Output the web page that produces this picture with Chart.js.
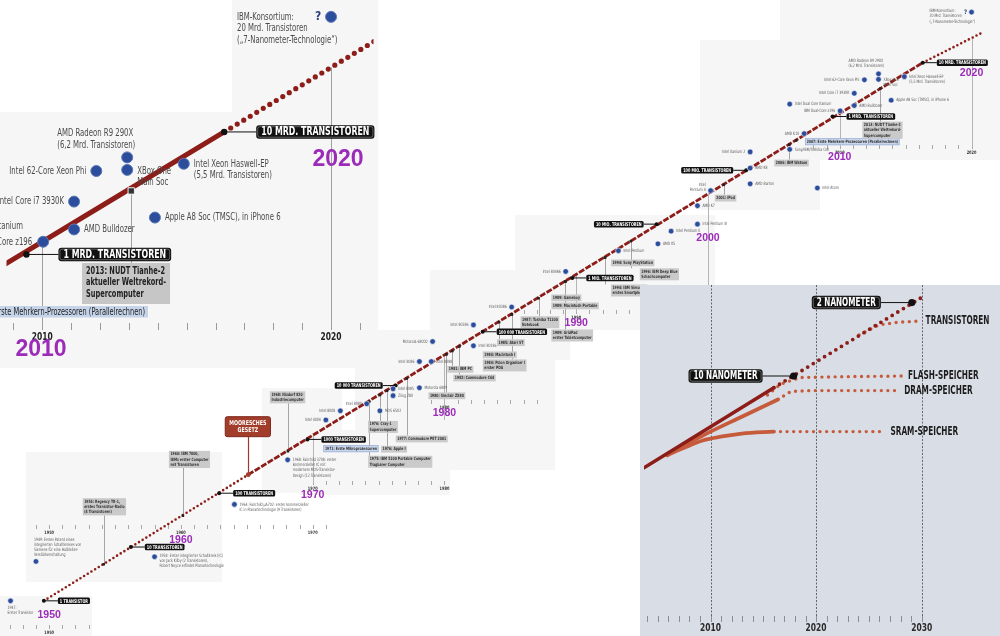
<!DOCTYPE html>
<html>
<head>
<meta charset="utf-8">
<script src="https://cdn.jsdelivr.net/npm/chart.js@4.4.0/dist/chart.umd.min.js"></script>
<style>
html, body { margin: 0; padding: 0; background: #fff; }
#wrap { position: relative; width: 1000px; height: 636px; overflow: hidden; }
canvas { position: absolute; }
#main { left: 0; top: 0; }
#zoom { left: 0; top: 0; }
#future { left: 640px; top: 285px; }
</style>
</head>
<body>
<div id="wrap">
  <canvas id="main" width="1000" height="636"></canvas>
  <canvas id="zoom" width="380" height="372"></canvas>
  <canvas id="future" width="360" height="351"></canvas>
</div>
<script>
// Mooresches Gesetz: Hauptlinie (Jahr, Transistoren)
const mooreYears = [1949.6, 1965.11, 2016.3, 2020.7];
const mooreCounts = [1, 221, 1e10, 3.5e10];

// Meilensteine auf der Linie
const milestoneLabels = ['1 TRANSISTOR', '10 TRANSISTOREN', '100 TRANSISTOREN', '1000 TRANSISTOREN',
  '10 000 TRANSISTOREN', '100 000 TRANSISTOREN', '1 MIO. TRANSISTOREN', '10 MIO. TRANSISTOREN',
  '100 MIO. TRANSISTOREN', '1 MRD. TRANSISTOREN', '10 MRD. TRANSISTOREN'];
const milestoneYears = [1949.6, 1956.2, 1962.9, 1969.6, 1976.3, 1982.9, 1989.7, 1996.1, 2002.9, 2009.45, 2016.3];
const milestoneCounts = [1, 10, 100, 1e3, 1e4, 1e5, 1e6, 1e7, 1e8, 1e9, 1e10];

// Chips (blaue Punkte)
const chipNames = [
  '1947:\nErster Transistor',
  '1949: Erstes Patent eines\nintegrierten Schaltkreises von\nSiemens für eine Halbleiter-\nVerstärkerschaltung',
  '1958: Erster integrierter Schaltkreis (IC)\nvon Jack Kilby (2 Transistoren),\nRobert Noyce erfindet Planartechnologie',
  '1964: Fairchild µA702: erster kommerzieller\nIC in Planartechnologie (9 Transistoren)',
  '1968: Fairchild 3708: erster\nkommerzieller IC mit\nmodernem MOS-Transistor-\nDesign (12 Transistoren)',
  'Intel 4004', 'Intel 8008', 'Intel 8080', 'MOS 6502', 'Intel 8085', 'Zilog Z80', 'Motorola 6809',
  'Intel 8086', 'Intel 8088', 'Motorola 68000', 'Intel 80286', 'Intel 80186', 'Intel 80386', 'Intel 80486',
  'Intel Pentium', 'AMD K5', 'Intel Pentium II', 'Intel Pentium III', 'AMD K7', 'Intel\nPentium 4',
  'AMD Barton', 'AMD K8', 'Intel Itanium 2', 'Intel Atom', 'Sony/IBM/Toshiba Cell', 'AMD K10',
  'Intel Dual Core Itanium', 'IBM Dual-Core z196', 'AMD Bulldozer', 'Intel Core i7 3930K',
  'Intel 62-Core Xeon Phi', 'AMD Radeon R9 290X\n(6,2 Mrd. Transistoren)', 'XBox One\nMain Soc',
  'Intel Xeon Haswell-EP\n(5,5 Mrd. Transistoren)', 'Apple A8 Soc (TMSC), in iPhone 6',
  'IBM-Konsortium:\n20 Mrd. Transistoren\n(„7-Nanometer-Technologie“)'
];
const chipYears = [1947.07, 1949.0, 1958.0, 1964.06, 1968.1, 1971.0, 1972.1, 1974.1, 1975.1, 1976.1, 1976.1,
  1978.1, 1978.1, 1979.0, 1979.1, 1982.2, 1982.2, 1985.1, 1989.2, 1993.2, 1996.2, 1997.2, 1999.2, 1999.2,
  2000.2, 2003.2, 2003.2, 2003.2, 2008.3, 2006.2, 2007.3, 2006.2, 2010.03, 2011.1, 2011.1, 2011.87,
  2012.94, 2012.94, 2014.9, 2013.9, 2020.0];
const chipCounts = [1, 5.4, 6.6, 62, 417, 2300, 3400, 4600, 3400, 8700, 6500, 9100, 28000, 28000, 66000,
  134000, 55000, 288000, 1.32e6, 3.2e6, 4.3e6, 7.4e6, 1.0e7, 2.2e7, 4.2e7, 5.6e7, 1.1e8, 2.2e8, 4.7e7,
  2.45e8, 4.8e8, 1.7e9, 1.27e9, 1.6e9, 2.7e9, 4.8e9, 6.2e9, 4.9e9, 5.5e9, 2.0e9, 8.7e10];

// Ereignisse (graue Kästen) mit Ankerpunkt auf der Linie
const eventLabels = [
  '1954: Regency TR-1,\nerstes Transistor-Radio\n(4 Transistoren)',
  '1960: IBM 7000,\nIBMs erster Computer\nmit Transistoren',
  'MOORESCHES\nGESETZ',
  '1968: Nixdorf 820\nIndustriecomputer',
  '1971: Erste Mikroprozessoren',
  '1975: IBM 5100 Portable Computer\nTragbarer Computer',
  '1976: Cray-1\nSupercomputer',
  '1976: Apple I',
  '1977: Commodore PET 2001',
  '1980: Sinclair ZX80',
  '1981: IBM PC',
  '1982: Commodore C64',
  '1985: Atari ST',
  '1984: Macintosh I',
  '1984: Psion Organiser I\nerster PDA',
  '1987: Toshiba T1100\nNotebook',
  '1989: Gameboy',
  '1989: Macintosh Portable',
  '1989: GridPad\nerster Tabletcomputer',
  '1994: Sony PlayStation',
  '1994: IBM Simon\nerstes Smartphone',
  '1996: IBM Deep Blue\nSchachcomputer',
  '2001: iPod',
  '2006: IBM Watson',
  '2007: Erste Mehrkern-Prozessoren (Parallelrechnen)',
  '2013: NUDT Tianhe-2\naktueller Weltrekord-\nSupercomputer'
];
const eventYears = [1954.14, 1960.15, 1965.11, 1968.12, 1969.98, 1974.29, 1975.11, 1975.64, 1977.14, 1980.15,
  1980.6, 1981.13, 1984.14, 1985.11, 1985.11, 1987.14, 1989.17, 1989.17, 1989.17, 1992.18, 1992.18, 1994.14,
  2001.2, 2006.17, 2006.69, 2013.08];
const eventCounts = [4.8, 38, 221, 600, 1140, 5000, 6700, 8000, 13500, 38000, 44000, 53000, 1.5e5, 2.1e5,
  2.1e5, 4.2e5, 8.6e5, 8.6e5, 8.6e5, 2.4e6, 2.4e6, 4.8e6, 5.4e7, 3.0e8, 3.6e8, 3.3e9];

// Zeitachse
const decadeYears = [1950, 1960, 1970, 1980, 1990, 2000, 2010, 2020];

// Ausschnitt oben links (2009-2021)
const zoomLineYears = [2008.7, 2016.3, 2021.5];
const zoomLineCounts = [8.3e8, 1e10, 5.5e10];
const zoomTickYears = [2010, 2020];

// Ausblick unten rechts
const transSolidYears = [2003.7, 2016.0];
const transSolidCounts = [2.0e8, 1.4e10];
const transTrendYears = [2016.0, 2030.2];
const transTrendCounts = [1.4e10, 1.8e12];
const transSatYears = [2024.07, 2025.92, 2027.77, 2029.9];
const transSatCounts = [2.3e11, 3.9e11, 4.5e11, 4.8e11];
const flashTrendYears = [2015.4, 2016.66, 2018.51, 2022.22, 2028.24];
const flashTrendCounts = [9.5e9, 1.7e10, 2.4e10, 2.5e10, 2.6e10];
const dramYears = [2005.9, 2009.26, 2012.96, 2016.39];
const dramCounts = [3.9e8, 1.1e9, 3.0e9, 7.5e9];
const dramTrendYears = [2016.39, 2017.59, 2019.44, 2027.96];
const dramTrendCounts = [7.5e9, 1.14e10, 1.2e10, 1.2e10];
const sramYears = [2005.9, 2007.4, 2009.26, 2011.11, 2012.96, 2016.0];
const sramCounts = [3.9e8, 5.6e8, 8.5e8, 1.05e9, 1.22e9, 1.36e9];
const sramTrendYears = [2016.0, 2026.57];
const sramTrendCounts = [1.36e9, 1.36e9];
const nodeLabels = ['10 NANOMETER', '2 NANOMETER'];
const nodeYears = [2017.87, 2029.07];
const nodeCounts = [2.6e10, 1.28e12];
const futureSeriesLabels = ['TRANSISTOREN', 'FLASH-SPEICHER', 'DRAM-SPEICHER', 'SRAM-SPEICHER'];
const futureTickYears = [2010, 2020, 2030];

// ---------- Stil / Layout ----------
const RED = '#8c1d18';
const ORANGE = '#c65b3b';
const BLUE = '#2b4d9b';
const PURPLE = '#9b2bb8';
const NARROW = "'Liberation Sans Narrow','DejaVu Sans Condensed',sans-serif";
const WIDE = "'Liberation Sans',Arial,sans-serif";

const pts = (xs, ys) => xs.map((x, i) => ({ x: x, y: ys[i] }));

function drawText(ctx, s, x, y, o) {
  ctx.save();
  ctx.font = (o.weight || 'normal') + ' ' + o.size + 'px ' + (o.family || NARROW);
  ctx.fillStyle = o.color || '#555';
  ctx.textBaseline = 'middle';
  ctx.textAlign = 'left';
  const sx = o.sx || 1;
  const w = ctx.measureText(s).width * sx;
  let x0 = x;
  if (o.align === 'right') x0 = x - w;
  else if (o.align === 'center') x0 = x - w / 2;
  ctx.translate(x0, y);
  ctx.scale(sx, 1);
  ctx.fillText(s, 0, 0);
  ctx.restore();
  return w;
}
function measure(ctx, s, o) {
  ctx.save();
  ctx.font = (o.weight || 'normal') + ' ' + o.size + 'px ' + (o.family || NARROW);
  const w = ctx.measureText(s).width * (o.sx || 1);
  ctx.restore();
  return w;
}
function drawLines(ctx, text, x, y, lh, o) {
  text.split('\n').forEach((s, i) => drawText(ctx, s, x, y + i * lh, o));
}
function rrect(ctx, x, y, w, h, r) {
  ctx.beginPath();
  ctx.moveTo(x + r, y);
  ctx.lineTo(x + w - r, y);
  ctx.quadraticCurveTo(x + w, y, x + w, y + r);
  ctx.lineTo(x + w, y + h - r);
  ctx.quadraticCurveTo(x + w, y + h, x + w - r, y + h);
  ctx.lineTo(x + r, y + h);
  ctx.quadraticCurveTo(x, y + h, x, y + h - r);
  ctx.lineTo(x, y + r);
  ctx.quadraticCurveTo(x, y, x + r, y);
  ctx.closePath();
}
// schwarzer Beschriftungskasten; side 'r': Kasten rechts vom Punkt
function tag(ctx, s, dotX, dotY, gap, side, o) {
  const w = measure(ctx, s, { size: o.size, weight: 'bold', sx: o.sx }) + o.pad * 2;
  const x0 = side === 'l' ? dotX - gap - w : dotX + gap;
  ctx.save();
  ctx.strokeStyle = '#111';
  ctx.lineWidth = 1;
  ctx.beginPath();
  ctx.moveTo(dotX, dotY);
  ctx.lineTo(side === 'l' ? x0 + w : x0, dotY);
  ctx.stroke();
  rrect(ctx, x0, dotY - o.h / 2, w, o.h, o.r);
  ctx.fillStyle = '#111';
  ctx.fill();
  if (o.inner) {
    rrect(ctx, x0 + 1.5, dotY - o.h / 2 + 1.5, w - 3, o.h - 3, o.r - 1);
    ctx.strokeStyle = 'rgba(255,255,255,0.55)';
    ctx.lineWidth = 0.6;
    ctx.stroke();
  }
  ctx.restore();
  drawText(ctx, s, x0 + o.pad, dotY + 0.5, { size: o.size, weight: 'bold', color: '#fff', sx: o.sx });
}
function logInterp(xs, ys, x) {
  for (let i = 0; i < xs.length - 1; i++) {
    if (x >= xs[i] && x <= xs[i + 1]) {
      const t = (x - xs[i]) / (xs[i + 1] - xs[i]);
      return Math.pow(10, Math.log10(ys[i]) + t * (Math.log10(ys[i + 1]) - Math.log10(ys[i])));
    }
  }
  return ys[ys.length - 1];
}
function dotted(data, color, width, gap, order) {
  return { data: data, showLine: true, pointRadius: 0, borderColor: color, borderWidth: width,
    borderDash: [0, gap], borderCapStyle: 'round', order: order || 10 };
}
function solid(data, color, width, order) {
  return { data: data, showLine: true, pointRadius: 0, borderColor: color, borderWidth: width,
    borderCapStyle: 'round', cubicInterpolationMode: 'monotone', order: order || 10 };
}
function baseOptions(xmin, xmax, ymin, ymax) {
  return {
    responsive: false, animation: false, devicePixelRatio: 1, events: [],
    layout: { padding: 0 },
    plugins: { legend: { display: false }, tooltip: { enabled: false } },
    scales: {
      x: { type: 'linear', min: xmin, max: xmax, display: false },
      y: { type: 'logarithmic', min: ymin, max: ymax, display: false }
    }
  };
}

// Layout der Hauptgrafik
const R = [5, 0, 'left'], L = [-5, 0, 'right'];
const chipPlace = [
  [-3, 7, 'left'], [-2, -22, 'left'], [5, -1, 'left'], [5, 0, 'left'], [5, 0, 'left'],
  L, L, L, R, R, R, R, L, R, L, L, R, L, L, R, R, R, R, R, [-5, -6, 'right'],
  R, R, L, R, R, L, R, L, R, L, L, [-30, -13, 'left'], R, R, R, [-42, -1, 'left']
];
const milestoneSide = ['r', 'r', 'r', 'r', 'l', 'r', 'r', 'l', 'l', 'r', 'r'];
const eventBox = [[-21, -66], [-14, -65], [-23, -58], [-18, -60], [11, 9], [-1, 54], [-12, 26], [-6, 55],
  [-11, 57], [-18, 38], [-5, 15], [-6, 28], [-2, 17], [-29, 37], [-29, 45], [-18, 18], [-14, 13], [-14, 21],
  [-14, 48], [6, 2], [6, 27], [9, 27], [-9, 10], [-15, 15], [9, -2], [-18, 33]];
const eventKind = eventLabels.map((s, i) => i === 2 ? 'red' : (i === 4 || i === 24) ? 'blue' : 'gray');
const decadeLabelY = [615, 540, 495, 413, 323, 238, 157, 73];
const stemBottom = { 1970: 483, 1980: 420, 1990: 312, 2000: 290, 2010: 147, 2020: 147 };
const tickRows = [
  { from: 1947, to: 1953, y: 627, labels: [1950] },
  { from: 1949, to: 1971, y: 527, labels: [1950, 1960, 1970] },
  { from: 1970, to: 1980, y: 483, labels: [1970, 1980] },
  { from: 1979, to: 1987, y: 402, labels: [1980] },
  { from: 1986, to: 2000, y: 312, labels: [1990] },
  { from: 2008, to: 2020, y: 147, labels: [2010, 2020] }
];
const panels = [[0, 596, 92, 40], [26, 452, 196, 130], [262, 388, 80, 105], [300, 430, 150, 65],
  [355, 330, 200, 140], [430, 270, 140, 90], [515, 215, 200, 115], [700, 40, 120, 170], [780, 0, 220, 160]];
const SMALL = { size: 4.5, color: '#5a5a5a', sx: 0.78 };
const BOXFONT = { size: 4.4, weight: 'bold', color: '#333', sx: 0.78 };
const MOOREFONT = { size: 6.6, weight: 'bold', color: '#fff', sx: 0.8, align: 'center' };

const mainDecor = {
  id: 'mainDecor',
  beforeDatasetsDraw(chart) {
    const ctx = chart.ctx;
    const X = v => chart.scales.x.getPixelForValue(v);
    const Y = v => chart.scales.y.getPixelForValue(v);
    ctx.save();
    ctx.fillStyle = '#f6f6f6';
    panels.forEach(p => ctx.fillRect(p[0], p[1], p[2], p[3]));
    // Zeitachsen-Abschnitte
    ctx.strokeStyle = '#a8a8a8';
    ctx.lineWidth = 1;
    tickRows.forEach(r => {
      for (let yr = r.from; yr <= r.to; yr++) {
        const x = Math.round(X(yr)) + 0.5;
        ctx.beginPath();
        ctx.moveTo(x, r.y - 2);
        ctx.lineTo(x, r.y + 2);
        ctx.stroke();
      }
      r.labels.forEach(l => drawText(ctx, String(l), X(l), r.y + 6, { size: 4.6, weight: 'bold', color: '#333', align: 'center', sx: 0.85 }));
    });
    // senkrechte Linien der Jahrzehnte
    ctx.strokeStyle = '#b5b5b5';
    Object.keys(stemBottom).forEach(k => {
      const yr = Number(k);
      const x = Math.round(X(yr)) + 0.5;
      ctx.beginPath();
      ctx.moveTo(x, Y(logInterp(mooreYears, mooreCounts, yr)));
      ctx.lineTo(x, stemBottom[k]);
      ctx.stroke();
    });
    // Verbindungslinien der Ereignisse
    eventLabels.forEach((s, i) => {
      if (eventKind[i] === 'blue') return;
      const ax = X(eventYears[i]), ay = Y(eventCounts[i]);
      const h = boxSize(ctx, s, eventKind[i]).h;
      const by = ay + eventBox[i][1];
      ctx.strokeStyle = eventKind[i] === 'red' ? '#9d3a2b' : '#a5a5a5';
      ctx.lineWidth = eventKind[i] === 'red' ? 1.2 : 1;
      ctx.beginPath();
      ctx.moveTo(Math.round(ax) + 0.5, ay);
      ctx.lineTo(Math.round(ax) + 0.5, eventBox[i][1] < 0 ? by + h : by);
      ctx.stroke();
    });
    ctx.restore();
  },
  afterDatasetsDraw(chart) {
    const ctx = chart.ctx;
    const X = v => chart.scales.x.getPixelForValue(v);
    const Y = v => chart.scales.y.getPixelForValue(v);
    // Ereigniskästen
    eventLabels.forEach((s, i) => {
      const ax = X(eventYears[i]), ay = Y(eventCounts[i]);
      const k = eventKind[i];
      const sz = boxSize(ctx, s, k);
      const bx = ax + eventBox[i][0], by = ay + eventBox[i][1];
      ctx.save();
      if (k === 'red') {
        rrect(ctx, bx, by, sz.w, sz.h, 2);
        ctx.fillStyle = '#a23c2b';
        ctx.fill();
        ctx.strokeStyle = '#7d2a1d';
        ctx.lineWidth = 1;
        ctx.stroke();
      } else {
        ctx.fillStyle = k === 'blue' ? '#c9d6ec' : '#cacaca';
        ctx.fillRect(bx, by, sz.w, sz.h);
        if (k === 'blue') {
          ctx.strokeStyle = '#8ea6cf';
          ctx.lineWidth = 0.6;
          ctx.strokeRect(bx + 0.3, by + 0.3, sz.w - 0.6, sz.h - 0.6);
        }
      }
      ctx.restore();
      const o = k === 'red' ? MOOREFONT : BOXFONT;
      const tx = k === 'red' ? bx + sz.w / 2 : bx + 1.5;
      drawLines(ctx, s, tx, by + sz.pad + sz.lh / 2, sz.lh, o);
    });
    // Chip-Beschriftungen
    chipNames.forEach((s, i) => {
      const p = chipPlace[i];
      const x = X(chipYears[i]) + p[0], y = Y(chipCounts[i]) + p[1];
      drawLines(ctx, s, x, y, 5.2, Object.assign({ align: p[2] }, SMALL));
    });
    drawText(ctx, '?', X(chipYears[40]) - 6, Y(chipCounts[40]), { size: 6, weight: 'bold', color: '#2b3f7a', align: 'center' });
    // Meilensteine
    milestoneLabels.forEach((s, i) => {
      tag(ctx, s, X(milestoneYears[i]), Y(milestoneCounts[i]), milestoneSide[i] === 'l' ? 13 : 14,
        milestoneSide[i], { size: 5, sx: 0.76, pad: 2, h: 6.5, r: 1.5 });
    });
    // Jahrzehnte
    decadeYears.forEach((d, i) => drawText(ctx, String(d), X(d), decadeLabelY[i],
      { size: 10.5, weight: 'bold', family: WIDE, color: PURPLE, align: 'center' }));
  }
};
function boxSize(ctx, s, kind) {
  const lines = s.split('\n');
  const f = kind === 'red' ? MOOREFONT : BOXFONT;
  const w = Math.max(...lines.map(l => measure(ctx, l, f)));
  if (kind === 'red') return { w: w + 8, h: lines.length * 7.5 + 5, lh: 7.5, pad: 2.5 };
  return { w: w + 3, h: lines.length * 5.2 + 1.6, lh: 5.2, pad: 0.8 };
}

new Chart(document.getElementById('main'), {
  type: 'scatter',
  data: {
    datasets: [
      { data: pts(chipYears, chipCounts), pointRadius: 2.8, backgroundColor: BLUE, borderColor: '#ffffff', borderWidth: 0.6, order: 1 },
      { data: pts(milestoneYears, milestoneCounts), pointRadius: 2, backgroundColor: '#111', borderWidth: 0, order: 1 },
      { data: pts(eventYears, eventCounts), pointStyle: eventYears.map((y, i) => i === 2 ? 'circle' : 'rect'),
        pointRadius: eventYears.map((y, i) => i === 2 ? 2.4 : i === 4 ? 0 : 1.8),
        backgroundColor: eventYears.map((y, i) => i === 2 ? '#a23c2b' : '#222'), borderWidth: 0, order: 2 },
      dotted(pts(mooreYears.slice(0, 2), mooreCounts.slice(0, 2)), RED, 2.6, 4.3),
      Object.assign(solid(pts(mooreYears.slice(1, 3), mooreCounts.slice(1, 3)), RED, 2.8),
        { borderDash: [6, 1.6], borderCapStyle: 'butt' }),
      dotted(pts(mooreYears.slice(2, 4), mooreCounts.slice(2, 4)), RED, 2.6, 4.3)
    ]
  },
  options: baseOptions(1946.62, 2021.81, 0.2705, 1.2e11),
  plugins: [mainDecor]
});

// ---------- Ausschnitt oben links ----------
const zoomChipIdx = [31, 32, 33, 34, 35, 36, 37, 38, 39, 40];
const zoomPlace = { 31: [10, 0, 'left'], 32: [-11, 0, 'right'], 33: [10, 0, 'left'], 34: [-10, 0, 'right'],
  35: [-10, 0, 'right'], 36: [-70, -24, 'left'], 37: [10, 1, 'left'], 38: [10, 0, 'left'], 39: [10, 0, 'left'],
  40: [-94, 0, 'left'] };
const zoomTickY = 327;
const ZOOMFONT = { size: 11, color: '#4a4a4a', sx: 0.7 };

const zoomDecor = {
  id: 'zoomDecor',
  beforeDatasetsDraw(chart) {
    const ctx = chart.ctx;
    const X = v => chart.scales.x.getPixelForValue(v);
    const Y = v => chart.scales.y.getPixelForValue(v);
    ctx.save();
    ctx.fillStyle = '#f6f6f6';
    ctx.fillRect(0, 112, 378, 256);
    ctx.fillRect(232, 0, 146, 112);
    ctx.strokeStyle = '#9a9a9a';
    ctx.lineWidth = 1;
    for (let yr = 2009; yr <= 2021; yr++) {
      const x = Math.round(X(yr)) + 0.5;
      ctx.beginPath();
      ctx.moveTo(x, zoomTickY - 4);
      ctx.lineTo(x, zoomTickY + 3);
      ctx.stroke();
    }
    ctx.strokeStyle = '#a0a0a0';
    const x10 = Math.round(X(2010)) + 0.5, x20 = Math.round(X(2020)) + 0.5;
    ctx.beginPath();
    ctx.moveTo(x10, Y(chipCounts[32]));
    ctx.lineTo(x10, zoomTickY);
    ctx.moveTo(x20, Y(logInterp(zoomLineYears, zoomLineCounts, 2020)));
    ctx.lineTo(x20, zoomTickY);
    const tx = Math.round(X(eventYears[25])) + 0.5;
    ctx.moveTo(tx, Y(eventCounts[25]));
    ctx.lineTo(tx, 263);
    ctx.stroke();
    ctx.restore();
    zoomTickYears.forEach(t => drawText(ctx, String(t), X(t), zoomTickY + 10, { size: 10.5, weight: 'bold', color: '#222', align: 'center', sx: 0.8 }));
  },
  afterDatasetsDraw(chart) {
    const ctx = chart.ctx;
    const X = v => chart.scales.x.getPixelForValue(v);
    const Y = v => chart.scales.y.getPixelForValue(v);
    zoomChipIdx.forEach(i => {
      const p = zoomPlace[i];
      drawLines(ctx, chipNames[i], X(chipYears[i]) + p[0], Y(chipCounts[i]) + p[1], 11.5,
        Object.assign({ align: p[2] }, ZOOMFONT));
    });
    drawText(ctx, '?', X(chipYears[40]) - 13, Y(chipCounts[40]), { size: 12, weight: 'bold', color: '#2b3f7a', align: 'center' });
    // Tianhe-2 und Mehrkern-Kasten
    ctx.save();
    ctx.fillStyle = '#c6c6c6';
    ctx.fillRect(82, 263, 88, 41);
    ctx.fillStyle = '#c6d4ea';
    const mw = measure(ctx, eventLabels[24], { size: 10.5, sx: 0.7 }) + 6;
    ctx.fillRect(148 - mw, 306, mw, 11.5);
    ctx.restore();
    drawLines(ctx, eventLabels[25], 86, 271, 11.5, { size: 10.5, weight: 'bold', color: '#222', sx: 0.7 });
    drawText(ctx, eventLabels[24], 145, 312, { size: 10.5, color: '#222', sx: 0.7, align: 'right' });
    [9, 10].forEach(i => tag(ctx, milestoneLabels[i], X(milestoneYears[i]), Y(milestoneCounts[i]), 32, 'r',
      { size: 11.5, sx: 0.76, pad: 5, h: 13.5, r: 3, inner: true }));
    drawText(ctx, '2010', 41, 350, { size: 23, weight: 'bold', family: WIDE, color: PURPLE, align: 'center' });
    drawText(ctx, '2020', 338, 160, { size: 23, weight: 'bold', family: WIDE, color: PURPLE, align: 'center' });
  }
};

new Chart(document.getElementById('zoom'), {
  type: 'scatter',
  data: {
    datasets: [
      { data: zoomChipIdx.map(i => ({ x: chipYears[i], y: chipCounts[i] })), pointRadius: 5.5,
        backgroundColor: BLUE, borderColor: '#5b78b8', borderWidth: 1, order: 1 },
      { data: [9, 10].map(i => ({ x: milestoneYears[i], y: milestoneCounts[i] })), pointRadius: 3.2,
        backgroundColor: '#111', borderWidth: 0, order: 1 },
      { data: [{ x: eventYears[25], y: eventCounts[25] }], pointStyle: 'rect', pointRadius: 4.5,
        backgroundColor: '#333', borderColor: '#eee', borderWidth: 1, order: 1 },
      solid(pts(zoomLineYears.slice(0, 2), zoomLineCounts.slice(0, 2)), RED, 5),
      dotted(pts(zoomLineYears.slice(1, 3), zoomLineCounts.slice(1, 3)), RED, 5.2, 7.6)
    ]
  },
  options: baseOptions(2008.76, 2021.47, 1.24e8, 1.057e11),
  plugins: [zoomDecor]
});

// ---------- Ausblick unten rechts ----------
const futureTickY = 333;
const labelGap = [5, 5, 4, 5];
const futureDecor = {
  id: 'futureDecor',
  beforeDatasetsDraw(chart) {
    const ctx = chart.ctx;
    const X = v => chart.scales.x.getPixelForValue(v);
    ctx.save();
    ctx.fillStyle = '#d9dee6';
    ctx.fillRect(0, 0, chart.width, chart.height);
    ctx.strokeStyle = '#62666d';
    ctx.lineWidth = 1;
    ctx.setLineDash([2, 1.5]);
    futureTickYears.forEach(t => {
      const x = Math.round(X(t)) + 0.5;
      ctx.beginPath();
      ctx.moveTo(x, 0);
      ctx.lineTo(x, futureTickY);
      ctx.stroke();
    });
    ctx.setLineDash([]);
    ctx.strokeStyle = '#8a8e95';
    for (let yr = 2004; yr <= 2030; yr++) {
      const x = Math.round(X(yr)) + 0.5;
      ctx.beginPath();
      ctx.moveTo(x, futureTickY - 2);
      ctx.lineTo(x, futureTickY + 4);
      ctx.stroke();
    }
    ctx.restore();
    futureTickYears.forEach(t => drawText(ctx, String(t), X(t), futureTickY + 10, { size: 10.5, weight: 'bold', color: '#2a2a2a', align: 'center', sx: 0.8 }));
  },
  afterDatasetsDraw(chart) {
    const ctx = chart.ctx;
    const X = v => chart.scales.x.getPixelForValue(v);
    const Y = v => chart.scales.y.getPixelForValue(v);
    const ends = [[transSatYears, transSatCounts], [flashTrendYears, flashTrendCounts],
      [dramTrendYears, dramTrendCounts], [sramTrendYears, sramTrendCounts]];
    futureSeriesLabels.forEach((s, i) => {
      const xs = ends[i][0], ys = ends[i][1];
      drawText(ctx, s, X(xs[xs.length - 1]) + labelGap[i], Y(ys[ys.length - 1]), { size: 11.5, weight: 'bold', color: '#1c1c1c', sx: 0.71 });
    });
    nodeLabels.forEach((s, i) => tag(ctx, s, X(nodeYears[i]), Y(nodeCounts[i]), 31, 'l',
      { size: 11.5, sx: 0.7, pad: 5, h: 13.5, r: 3, inner: true }));
  }
};

new Chart(document.getElementById('future'), {
  type: 'scatter',
  data: {
    datasets: [
      { data: pts(nodeYears, nodeCounts), pointRadius: 3.6, backgroundColor: '#111', borderWidth: 0, order: 1 },
      solid(pts(transSolidYears, transSolidCounts), RED, 3.6, 3),
      dotted(pts(transTrendYears, transTrendCounts), RED, 3.8, 6.6, 4),
      dotted(pts(transSatYears, transSatCounts), ORANGE, 3.4, 6.6, 5),
      dotted(pts(flashTrendYears, flashTrendCounts), ORANGE, 3.4, 6.6, 6),
      solid(pts(dramYears, dramCounts), ORANGE, 3.8, 6),
      dotted(pts(dramTrendYears, dramTrendCounts), ORANGE, 3.4, 6.6, 6),
      solid(pts(sramYears, sramCounts), ORANGE, 3.8, 6),
      dotted(pts(sramTrendYears, sramTrendCounts), ORANGE, 3.4, 6.6, 6)
    ]
  },
  options: baseOptions(2003.7, 2037.04, 3.28e4, 2.63e12),
  plugins: [futureDecor]
});
</script>
</body>
</html>
